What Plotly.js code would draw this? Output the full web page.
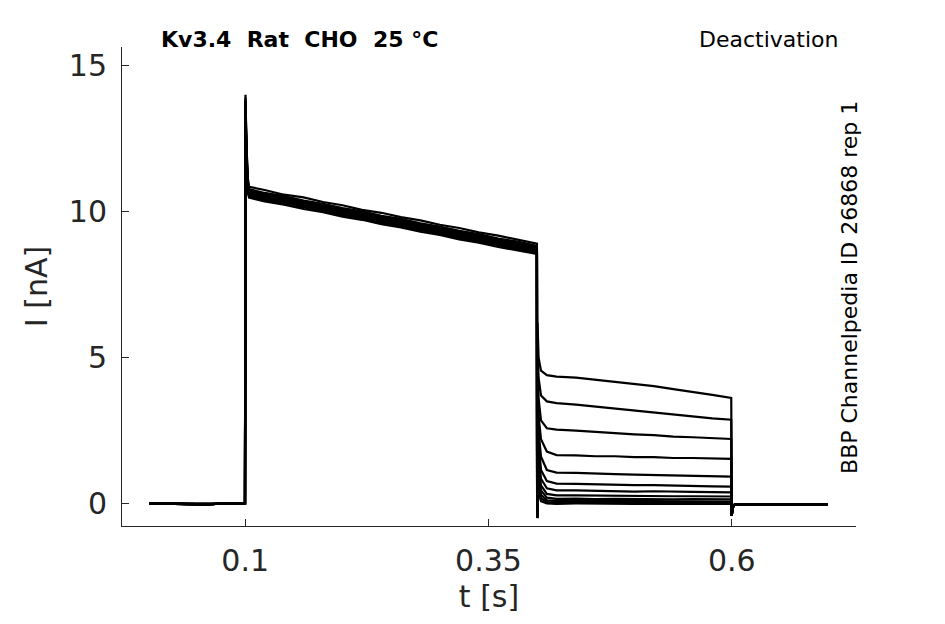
<!DOCTYPE html>
<html>
<head>
<meta charset="utf-8">
<script src="https://cdn.plot.ly/plotly-3.0.1.min.js"></script>
<style>
  body { margin: 0; background: #fff; }
  #plot { width: 945px; height: 624px; }
</style>
</head>
<body>
<div id="plot"></div>
<script>
// sample times [s], shared by every sweep
var tSec = [0.0015, 0.02, 0.04, 0.06, 0.08, 0.0998, 0.1003, 0.101, 0.1025, 0.104,
  0.12, 0.14, 0.16, 0.18, 0.20, 0.22, 0.24, 0.26, 0.28, 0.30, 0.32, 0.34, 0.36, 0.38,
  0.3998, 0.4, 0.4004, 0.4015, 0.404, 0.41,
  0.42, 0.44, 0.46, 0.48, 0.50, 0.52, 0.54, 0.56, 0.58, 0.5995,
  0.6, 0.6008, 0.603, 0.62, 0.64, 0.66, 0.68, 0.6985];

// current [nA] for each deactivation sweep
var sweep1 = [0, 0.01, -0.02, -0.03, 0, 0, 14.0, 12.6, 11.2, 10.85,
  10.74, 10.58, 10.49, 10.33, 10.22, 10.06, 9.96, 9.81, 9.70, 9.55, 9.44, 9.29, 9.18, 9.03,
  8.90, -0.5, 6.2, 5.0, 4.55, 4.40,
  4.35, 4.31, 4.24, 4.18, 4.10, 4.02, 3.92, 3.83, 3.72, 3.62,
  -0.42, -0.15, -0.04, -0.03, -0.02, -0.03, -0.02, -0.03];
var sweep2 = [0, 0, -0.01, -0.03, 0.01, 0, 13.9, 12.5, 11.1, 10.77,
  10.64, 10.53, 10.38, 10.27, 10.12, 10.01, 9.86, 9.75, 9.60, 9.49, 9.34, 9.23, 9.08, 8.97,
  8.83, -0.5, 5.6, 4.3, 3.7, 3.50,
  3.44, 3.39, 3.32, 3.27, 3.19, 3.13, 3.05, 2.99, 2.92, 2.87,
  -0.42, -0.15, -0.04, -0.03, -0.03, -0.02, -0.03, -0.03];
var sweep3 = [0, 0, -0.02, -0.02, 0, 0, 13.8, 12.5, 11.0, 10.72,
  10.62, 10.47, 10.36, 10.21, 10.10, 9.95, 9.84, 9.69, 9.58, 9.43, 9.32, 9.17, 9.06, 8.91,
  8.80, -0.5, 5.0, 3.6, 2.85, 2.58,
  2.53, 2.50, 2.45, 2.42, 2.37, 2.34, 2.29, 2.27, 2.23, 2.21,
  -0.42, -0.15, -0.04, -0.03, -0.03, -0.03, -0.02, -0.03];
var sweep4 = [0, 0.01, -0.02, -0.03, 0, 0, 13.8, 12.4, 11.0, 10.71,
  10.57, 10.46, 10.31, 10.20, 10.05, 9.94, 9.79, 9.68, 9.53, 9.42, 9.27, 9.16, 9.01, 8.90,
  8.76, -0.5, 4.4, 3.0, 2.2, 1.78,
  1.66, 1.65, 1.62, 1.62, 1.59, 1.59, 1.56, 1.56, 1.54, 1.53,
  -0.42, -0.15, -0.04, -0.03, -0.02, -0.03, -0.03, -0.03];
var sweep5 = [0, 0, -0.02, -0.03, 0, 0, 13.7, 12.4, 10.9, 10.66,
  10.56, 10.41, 10.30, 10.15, 10.04, 9.89, 9.78, 9.63, 9.52, 9.37, 9.26, 9.11, 9.00, 8.85,
  8.74, -0.5, 3.9, 2.5, 1.6, 1.15,
  1.06, 1.05, 1.02, 1.01, 0.99, 0.98, 0.96, 0.95, 0.93, 0.92,
  -0.42, -0.15, -0.04, -0.03, -0.03, -0.03, -0.03, -0.03];
var sweep6 = [0, 0, -0.01, -0.03, 0, 0, 13.7, 12.3, 10.9, 10.65,
  10.52, 10.41, 10.26, 10.15, 10.00, 9.89, 9.74, 9.63, 9.48, 9.37, 9.22, 9.11, 8.96, 8.85,
  8.71, -0.5, 3.4, 2.1, 1.15, 0.77,
  0.68, 0.67, 0.65, 0.65, 0.63, 0.63, 0.61, 0.61, 0.59, 0.58,
  -0.42, -0.15, -0.04, -0.03, -0.02, -0.03, -0.03, -0.03];
var sweep7 = [0, 0, -0.02, -0.03, 0.01, 0, 13.6, 12.3, 10.9, 10.62,
  10.52, 10.37, 10.26, 10.11, 10.00, 9.85, 9.74, 9.59, 9.48, 9.33, 9.22, 9.07, 8.96, 8.81,
  8.70, -0.5, 3.0, 1.7, 0.85, 0.52,
  0.45, 0.45, 0.43, 0.43, 0.41, 0.42, 0.40, 0.40, 0.39, 0.38,
  -0.42, -0.15, -0.04, -0.03, -0.03, -0.03, -0.03, -0.03];
var sweep8 = [0, 0, -0.02, -0.02, 0, 0, 13.6, 12.2, 10.8, 10.61,
  10.47, 10.36, 10.21, 10.10, 9.95, 9.84, 9.69, 9.58, 9.43, 9.32, 9.17, 9.06, 8.91, 8.80,
  8.66, -0.5, 2.6, 1.35, 0.62, 0.33,
  0.28, 0.28, 0.27, 0.27, 0.26, 0.26, 0.25, 0.25, 0.24, 0.24,
  -0.42, -0.15, -0.04, -0.03, -0.03, -0.02, -0.03, -0.03];
var sweep9 = [0, 0, -0.02, -0.03, 0, 0, 13.5, 12.2, 10.8, 10.56,
  10.46, 10.31, 10.20, 10.05, 9.94, 9.79, 9.68, 9.53, 9.42, 9.27, 9.16, 9.01, 8.90, 8.75,
  8.64, -0.5, 2.2, 1.05, 0.45, 0.20,
  0.16, 0.17, 0.15, 0.16, 0.15, 0.15, 0.14, 0.15, 0.14, 0.14,
  -0.42, -0.15, -0.04, -0.03, -0.03, -0.03, -0.03, -0.03];
var sweep10 = [0, 0, -0.01, -0.03, 0, 0, 13.5, 12.1, 10.8, 10.55,
  10.42, 10.31, 10.16, 10.05, 9.90, 9.79, 9.64, 9.53, 9.38, 9.27, 9.12, 9.01, 8.86, 8.75,
  8.61, -0.5, 1.8, 0.8, 0.3, 0.11,
  0.09, 0.09, 0.08, 0.09, 0.08, 0.08, 0.07, 0.08, 0.07, 0.07,
  -0.42, -0.15, -0.04, -0.03, -0.03, -0.03, -0.02, -0.03];
var sweep11 = [0, 0, -0.02, -0.03, 0, 0, 13.4, 12.1, 10.7, 10.51,
  10.41, 10.26, 10.15, 10.00, 9.89, 9.74, 9.63, 9.48, 9.37, 9.22, 9.11, 8.96, 8.85, 8.70,
  8.59, -0.5, 1.4, 0.55, 0.18, 0.05,
  0.04, 0.04, 0.03, 0.04, 0.03, 0.03, 0.03, 0.03, 0.02, 0.02,
  -0.42, -0.15, -0.04, -0.03, -0.03, -0.03, -0.03, -0.03];
var sweep12 = [0, 0, -0.02, -0.03, 0, 0, 13.3, 12.0, 10.7, 10.48,
  10.35, 10.24, 10.09, 9.98, 9.83, 9.72, 9.57, 9.46, 9.31, 9.20, 9.05, 8.94, 8.79, 8.68,
  8.55, -0.5, 1.0, 0.35, 0.08, 0.0,
  -0.01, 0.0, -0.01, 0.0, -0.01, -0.01, -0.01, 0.0, -0.01, -0.01,
  -0.42, -0.15, -0.04, -0.03, -0.03, -0.03, -0.03, -0.03];

var sweeps = [sweep1, sweep2, sweep3, sweep4, sweep5, sweep6,
  sweep7, sweep8, sweep9, sweep10, sweep11, sweep12];

var xTickVals = [0.1, 0.35, 0.6];
var xTickText = ['0.1', '0.35', '0.6'];
var yTickVals = [0, 5, 10, 15];

var plotData = sweeps.map(function (s) {
  return {
    x: tSec,
    y: s,
    mode: 'lines',
    line: { color: 'rgb(0,0,0)', width: 2.2 },
    hoverinfo: 'skip'
  };
});

var axisColor = '#262626';
var layout = {
  width: 945,
  height: 624,
  showlegend: false,
  paper_bgcolor: '#fff',
  plot_bgcolor: '#fff',
  margin: { l: 122, r: 89, t: 47, b: 98 },
  font: { family: 'DejaVu Sans', color: axisColor },
  xaxis: {
    range: [-0.0266, 0.7277],
    tickvals: xTickVals,
    ticktext: xTickText,
    ticks: 'inside',
    ticklen: 7,
    tickcolor: axisColor,
    showline: true,
    linecolor: axisColor,
    linewidth: 1,
    showgrid: false,
    zeroline: false,
    tickfont: { size: 30, color: axisColor },
    ticklabelstandoff: 8,
    title: { text: 't [s]', font: { size: 30, color: axisColor }, standoff: 8 }
  },
  yaxis: {
    range: [-0.77, 15.64],
    tickvals: yTickVals,
    ticks: 'inside',
    ticklen: 7,
    tickcolor: axisColor,
    showline: true,
    linecolor: axisColor,
    linewidth: 1,
    showgrid: false,
    zeroline: false,
    tickfont: { size: 30, color: axisColor },
    ticklabelstandoff: 8,
    title: { text: 'I [nA]', font: { size: 30, color: axisColor }, standoff: 12 }
  },
  annotations: [
    {
      xref: 'paper', yref: 'paper', x: 0.0504, y: 1.0167,
      xanchor: 'left', yanchor: 'middle', showarrow: false,
      text: '<b>Kv3.4  Rat  CHO  25 °C</b>',
      font: { size: 22, color: '#000' }
    },
    {
      xref: 'paper', yref: 'paper', x: 0.978, y: 1.0167,
      xanchor: 'right', yanchor: 'middle', showarrow: false,
      text: 'Deactivation',
      font: { size: 22, color: '#000' }
    },
    {
      xref: 'paper', yref: 'paper', x: 0.9918, y: 0.499,
      xanchor: 'center', yanchor: 'middle', showarrow: false,
      textangle: -90,
      text: 'BBP Channelpedia ID 26868 rep 1',
      font: { size: 22, color: '#000' }
    }
  ]
};

Plotly.newPlot('plot', plotData, layout, { staticPlot: true });
</script>
</body>
</html>
